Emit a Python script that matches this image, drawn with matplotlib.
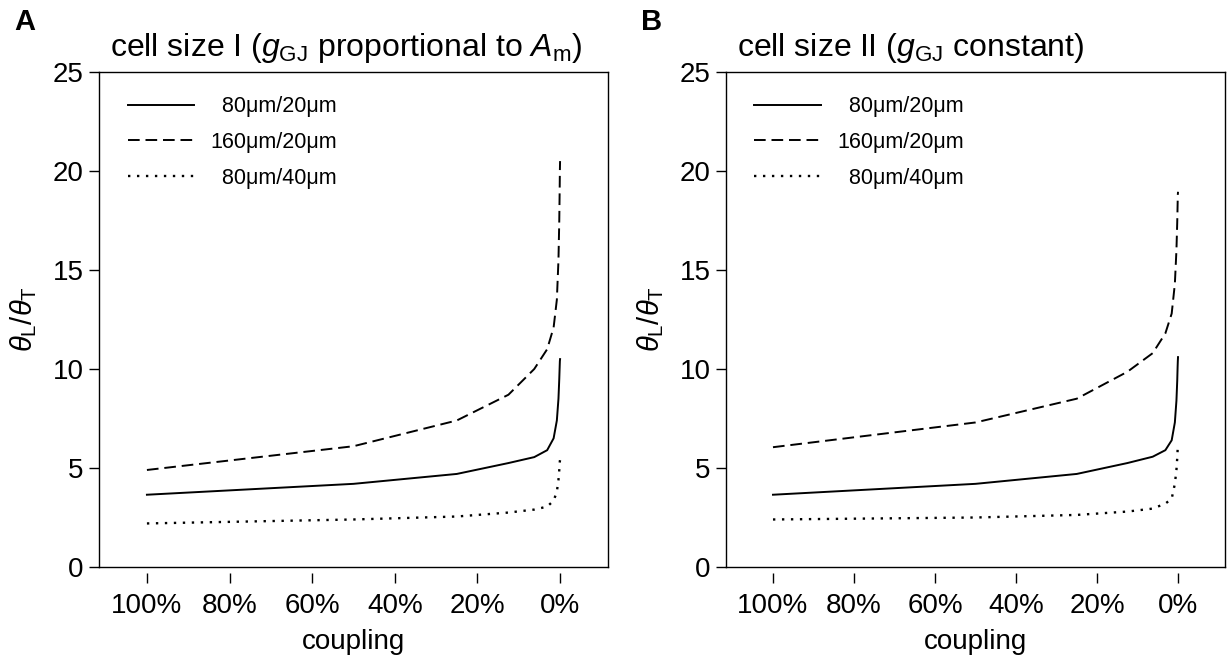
import matplotlib
matplotlib.use("Agg")
import matplotlib.pyplot as plt

plt.rcParams['font.family'] = ['Liberation Sans', 'DejaVu Sans']
plt.rcParams['mathtext.fontset'] = 'custom'
plt.rcParams['mathtext.rm'] = 'Liberation Sans'
plt.rcParams['mathtext.it'] = 'Liberation Sans:italic'
plt.rcParams['mathtext.bf'] = 'Liberation Sans:bold'

# coupling (%) sample points
coupling = [100, 50, 25, 12.5, 6.25, 3.125, 1.5625, 0.78, 0.39, 0.195, 0.1, 0.05, 0]

# Panel A: cell size I (gGJ proportional to Am)
a_80_20 = [3.65, 4.2, 4.7, 5.25, 5.55, 5.9, 6.5, 7.4, 8.5, 9.5, 10.1, 10.4, 10.5]
a_160_20 = [4.9, 6.1, 7.4, 8.7, 10.0, 11.0, 12.1, 13.5, 15.5, 17.5, 19.0, 20.0, 20.5]
a_80_40 = [2.2, 2.4, 2.55, 2.75, 2.9, 3.05, 3.35, 3.8, 4.4, 4.9, 5.2, 5.35, 5.4]

# Panel B: cell size II (gGJ constant)
b_80_20 = [3.65, 4.2, 4.7, 5.25, 5.57, 5.9, 6.4, 7.3, 8.4, 9.4, 10.1, 10.4, 10.6]
b_160_20 = [6.05, 7.3, 8.5, 9.86, 10.8, 11.8, 12.8, 14.3, 16.0, 17.4, 18.3, 18.8, 18.95]
b_80_40 = [2.4, 2.5, 2.63, 2.8, 2.95, 3.2, 3.45, 4.2, 4.9, 5.5, 5.9, 6.1, 6.16]

legend_labels = ['  80\u03bcm/20\u03bcm', '160\u03bcm/20\u03bcm', '  80\u03bcm/40\u03bcm']
xticks = [100, 80, 60, 40, 20, 0]
xticklabels = ['100%', '80%', '60%', '40%', '20%', '0%']
yticks = [0, 5, 10, 15, 20, 25]

titles = [r'cell size I ($g_{\rm GJ}$ proportional to $A_{\rm m}$)',
          r'cell size II ($g_{\rm GJ}$ constant)']
letters = ['A', 'B']

fig = plt.figure(figsize=(12.27, 6.59), dpi=100)
W, H = 1227, 659
boxes = [(99, 608), (726, 1225)]
top_px, bot_px = 72, 567

styles = [dict(ls='-', lw=1.4), dict(ls=(0, (6, 3)), lw=1.4),
          dict(ls=(0, (1, 2.8)), lw=1.7)]
data = [(a_80_20, a_160_20, a_80_40), (b_80_20, b_160_20, b_80_40)]

for i, (l, r) in enumerate(boxes):
    ax = fig.add_axes([l / W, 1 - bot_px / H, (r - l) / W, (bot_px - top_px) / H])
    for ser, st, lab in zip(data[i], styles, legend_labels):
        ax.plot(coupling, ser, color='black', label=lab, **st)
    ax.set_xlim(111.6, -11.6)
    ax.set_ylim(0, 25)
    ax.set_xticks(xticks)
    ax.set_xticklabels(xticklabels)
    ax.set_yticks(yticks)
    ax.tick_params(axis='both', direction='out', labelsize=20, width=1.0, length=7)
    ax.tick_params(axis='x', pad=8)
    ax.tick_params(axis='y', pad=4)
    ax.spines['bottom'].set_position(('outward', 4))
    ax.spines['bottom'].set_visible(False)
    ax.axhline(0, color='black', lw=1.0, clip_on=False)
    for s in ['left', 'top', 'right']:
        ax.spines[s].set_linewidth(1.0)
    ax.set_xlabel('coupling', fontsize=20, labelpad=7)
    ax.set_ylabel(r'$\theta_{\rm L}/\theta_{\rm T}$', fontsize=21, labelpad=10)
    ax.text(11 / (r - l), 1.015, titles[i], transform=ax.transAxes, fontsize=23,
            ha='left', va='bottom')
    ax.legend(loc='upper left', bbox_to_anchor=(0.018, 0.99), frameon=False,
              fontsize=15.5, handlelength=3.1, handletextpad=0.75, labelspacing=0.68)
    fig.text((l - 85) / W, 1 - 22 / H, letters[i], fontsize=21, fontweight='bold',
             ha='left', va='center')

fig.savefig('out.png', dpi=100)
